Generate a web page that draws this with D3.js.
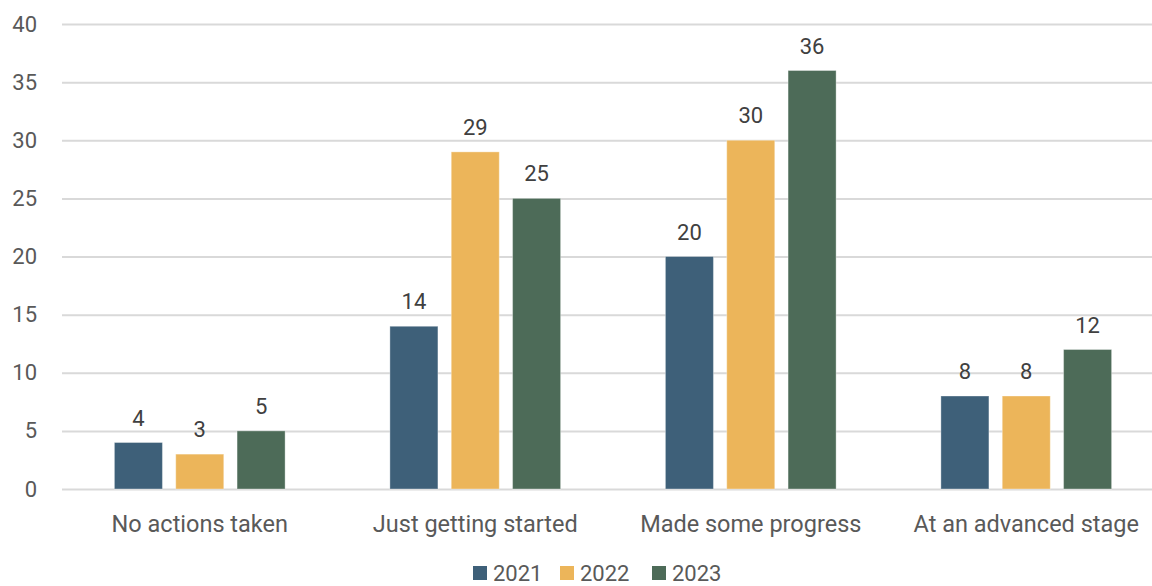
<!DOCTYPE html>
<html>
<head>
<meta charset="utf-8">
<script src="https://cdn.jsdelivr.net/npm/d3@7"></script>
<style>
  html, body { margin: 0; padding: 0; background: #fff; }
  svg { display: block; font-family: Roboto, "Noto Sans", sans-serif; }
</style>
</head>
<body>
<svg id="chart" width="1152" height="586"></svg>
<script>
// Survey stages and the share of respondents per year
const categories = ["No actions taken", "Just getting started", "Made some progress", "At an advanced stage"];
const years = ["2021", "2022", "2023"];
const values2021 = [4, 14, 20, 8];
const values2022 = [3, 29, 30, 8];
const values2023 = [5, 25, 36, 12];
const yTicks = [0, 5, 10, 15, 20, 25, 30, 35, 40];
const colors = ["#3e6079", "#ecb55a", "#4d6b58"];

const seriesValues = [values2021, values2022, values2023];
const rows = categories.map((c, i) => ({
  category: c,
  values: years.map((y, j) => ({ year: y, value: seriesValues[j][i], color: colors[j] }))
}));

const svg = d3.select("#chart");
const plotLeft = 62, plotRight = 1164, yBase = 489, yTop = 24;

const x0 = d3.scaleBand().domain(categories).range([plotLeft, plotRight]).padding(0);
const groupWidth = 170.7;
const x1 = d3.scaleBand().domain(years)
  .range([(x0.bandwidth() - groupWidth) / 2, (x0.bandwidth() + groupWidth) / 2])
  .paddingInner(0.217).paddingOuter(0);
const y = d3.scaleLinear().domain([0, 40]).range([yBase, yTop]);

// Horizontal gridlines and tick labels
const yAxis = d3.axisLeft(y).tickValues(yTicks).tickSize(-(plotRight - plotLeft)).tickPadding(25);
const gy = svg.append("g").attr("transform", `translate(${plotLeft},0)`).call(yAxis);
gy.select(".domain").remove();
gy.selectAll(".tick line").attr("stroke", "#d9d9d9").attr("stroke-width", 2);
gy.selectAll(".tick text").attr("fill", "#595959").style("font-size", "22px")
  .style("font-family", "Roboto, sans-serif");

// Category labels
const xAxis = d3.axisBottom(x0).tickSize(0).tickPadding(0);
const gx = svg.append("g").attr("transform", `translate(0,${yBase})`).call(xAxis);
gx.select(".domain").remove();
gx.selectAll(".tick text").attr("fill", "#595959").attr("dy", null).attr("y", 43)
  .style("font-size", "23.5px").style("font-family", "Roboto, sans-serif");

// Grouped bars
const groups = svg.append("g").selectAll("g").data(rows).join("g")
  .attr("transform", d => `translate(${x0(d.category)},0)`);

groups.selectAll("rect").data(d => d.values).join("rect")
  .attr("x", d => x1(d.year))
  .attr("y", d => y(d.value))
  .attr("width", x1.bandwidth())
  .attr("height", d => yBase - y(d.value))
  .attr("fill", d => d.color)
  .attr("stroke", "rgba(255,255,255,0.35)")
  .attr("stroke-width", 1);

groups.selectAll("text").data(d => d.values).join("text")
  .attr("x", d => x1(d.year) + x1.bandwidth() / 2)
  .attr("y", d => y(d.value) - 17)
  .attr("text-anchor", "middle")
  .attr("fill", "#404040")
  .style("font-size", "22px")
  .text(d => d.value);

// Legend
const legendX = [473, 560, 652];
const legend = svg.append("g").selectAll("g").data(years).join("g")
  .attr("transform", (d, i) => `translate(${legendX[i]},566)`);
legend.append("rect").attr("width", 14).attr("height", 14).attr("fill", (d, i) => colors[i]);
legend.append("text").attr("x", 20).attr("y", 15).attr("fill", "#595959")
  .style("font-size", "22px").text(d => d);
</script>
</body>
</html>
